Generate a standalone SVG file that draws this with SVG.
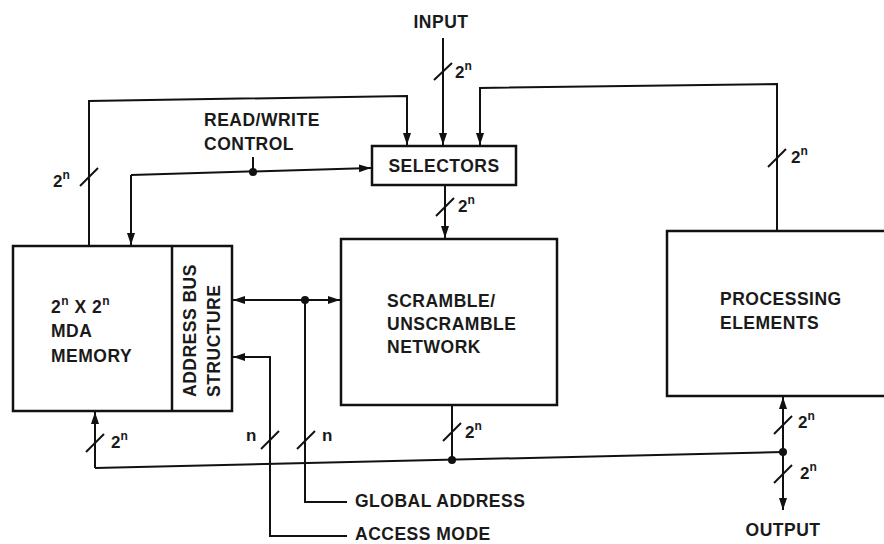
<svg xmlns="http://www.w3.org/2000/svg" width="884" height="544" viewBox="0 0 884 544">
<style>
.ln{fill:none;stroke:#111;stroke-width:2}
.bx{fill:none;stroke:#111;stroke-width:2.5}
.t{font-family:"Liberation Sans",Arial,sans-serif;font-weight:bold;font-size:17.5px;letter-spacing:0.5px;fill:#1a1a1a}
.s{font-family:"Liberation Sans",Arial,sans-serif;font-weight:bold;font-size:17px;fill:#1a1a1a}
.dot{fill:#111}
</style>
<defs>
<marker id="ar" markerUnits="userSpaceOnUse" markerWidth="14" markerHeight="10" refX="12" refY="4" orient="auto-start-reverse">
<path d="M0,0 L12,4 L0,8 Z" fill="#111"/>
</marker>
</defs>
<rect width="884" height="544" fill="#fff"/>

<g id="selectors">
<rect class="bx" x="372" y="146" width="144" height="39"/>
<text class="t" x="444" y="172" text-anchor="middle">SELECTORS</text>
</g>
<g id="memory">
<rect class="bx" x="13" y="246" width="219" height="165"/>
<text class="t" x="51" y="313">2<tspan font-size="12" dy="-8">n</tspan><tspan dy="8"> X 2</tspan><tspan font-size="12" dy="-8">n</tspan></text>
<text class="t" x="51" y="337">MDA</text>
<text class="t" x="51" y="362">MEMORY</text>
</g>
<g id="address-bus">
<line class="bx" x1="172" y1="246" x2="172" y2="411"/>
<text class="t" transform="translate(196,397) rotate(-90)">ADDRESS BUS</text>
<text class="t" transform="translate(220,397) rotate(-90)">STRUCTURE</text>
</g>
<g id="scramble">
<rect class="bx" x="341" y="239" width="216" height="166"/>
<text class="t" x="387" y="307">SCRAMBLE/</text>
<text class="t" x="387" y="330">UNSCRAMBLE</text>
<text class="t" x="387" y="353">NETWORK</text>
</g>
<g id="processing">
<rect class="bx" x="667" y="231" width="240" height="165"/>
<text class="t" x="720" y="305">PROCESSING</text>
<text class="t" x="720" y="329">ELEMENTS</text>
</g>

<g id="connectors">
<line class="ln" x1="443" y1="38" x2="443" y2="145" marker-end="url(#ar)"/>
<line class="ln" x1="434" y1="80" x2="452" y2="63"/>
<polyline class="ln" points="89,246 89,101 407,96 407,145" marker-end="url(#ar)"/>
<line class="ln" x1="80" y1="186" x2="98" y2="168"/>
<polyline class="ln" points="777,231 777,84 480,88 480,145" marker-end="url(#ar)"/>
<line class="ln" x1="768" y1="167" x2="786" y2="149"/>
<line class="ln" x1="253" y1="157" x2="253" y2="172"/>
<line class="ln" x1="131" y1="175" x2="371" y2="168" marker-end="url(#ar)"/>
<line class="ln" x1="131" y1="175" x2="131" y2="245" marker-end="url(#ar)"/>
<circle class="dot" cx="253" cy="172" r="4"/>
<line class="ln" x1="445" y1="185" x2="445" y2="238" marker-end="url(#ar)"/>
<line class="ln" x1="436" y1="216" x2="454" y2="198"/>
<line class="ln" x1="233" y1="300" x2="340" y2="300" marker-start="url(#ar)" marker-end="url(#ar)"/>
<circle class="dot" cx="305" cy="300" r="4"/>
<polyline class="ln" points="305,300 305,502 347,502"/>
<line class="ln" x1="297" y1="449" x2="315" y2="431"/>
<polyline class="ln" points="347,536 270,536 270,357 233,357" marker-end="url(#ar)"/>
<line class="ln" x1="261" y1="449" x2="279" y2="431"/>
<line class="ln" x1="95" y1="468" x2="95" y2="412" marker-end="url(#ar)"/>
<line class="ln" x1="86" y1="452" x2="104" y2="434"/>
<line class="ln" x1="95" y1="468" x2="783" y2="452"/>
<line class="ln" x1="452" y1="405" x2="452" y2="460"/>
<line class="ln" x1="443" y1="441" x2="461" y2="423"/>
<circle class="dot" cx="452" cy="460" r="4"/>
<line class="ln" x1="783" y1="452" x2="783" y2="397" marker-end="url(#ar)"/>
<line class="ln" x1="774" y1="434" x2="792" y2="416"/>
<line class="ln" x1="783" y1="452" x2="783" y2="510" marker-end="url(#ar)"/>
<line class="ln" x1="774" y1="483" x2="792" y2="465"/>
<circle class="dot" cx="783" cy="452" r="4"/>
</g>

<g id="labels">
<text class="t" x="441" y="28" text-anchor="middle">INPUT</text>
<text class="t" x="204" y="126">READ/WRITE</text>
<text class="t" x="204" y="150">CONTROL</text>
<text class="t" x="355" y="507">GLOBAL ADDRESS</text>
<text class="t" x="355" y="540">ACCESS MODE</text>
<text class="t" x="783" y="536" text-anchor="middle">OUTPUT</text>
<text class="s" x="455" y="78">2<tspan font-size="12" dy="-8">n</tspan></text>
<text class="s" x="53" y="187">2<tspan font-size="12" dy="-8">n</tspan></text>
<text class="s" x="791" y="163">2<tspan font-size="12" dy="-8">n</tspan></text>
<text class="s" x="458" y="212">2<tspan font-size="12" dy="-8">n</tspan></text>
<text class="s" x="111" y="448">2<tspan font-size="12" dy="-8">n</tspan></text>
<text class="s" x="465" y="438">2<tspan font-size="12" dy="-8">n</tspan></text>
<text class="s" x="798" y="428">2<tspan font-size="12" dy="-8">n</tspan></text>
<text class="s" x="800" y="479">2<tspan font-size="12" dy="-8">n</tspan></text>
<text class="s" x="246" y="441">n</text>
<text class="s" x="322" y="441">n</text>
</g>
</svg>
